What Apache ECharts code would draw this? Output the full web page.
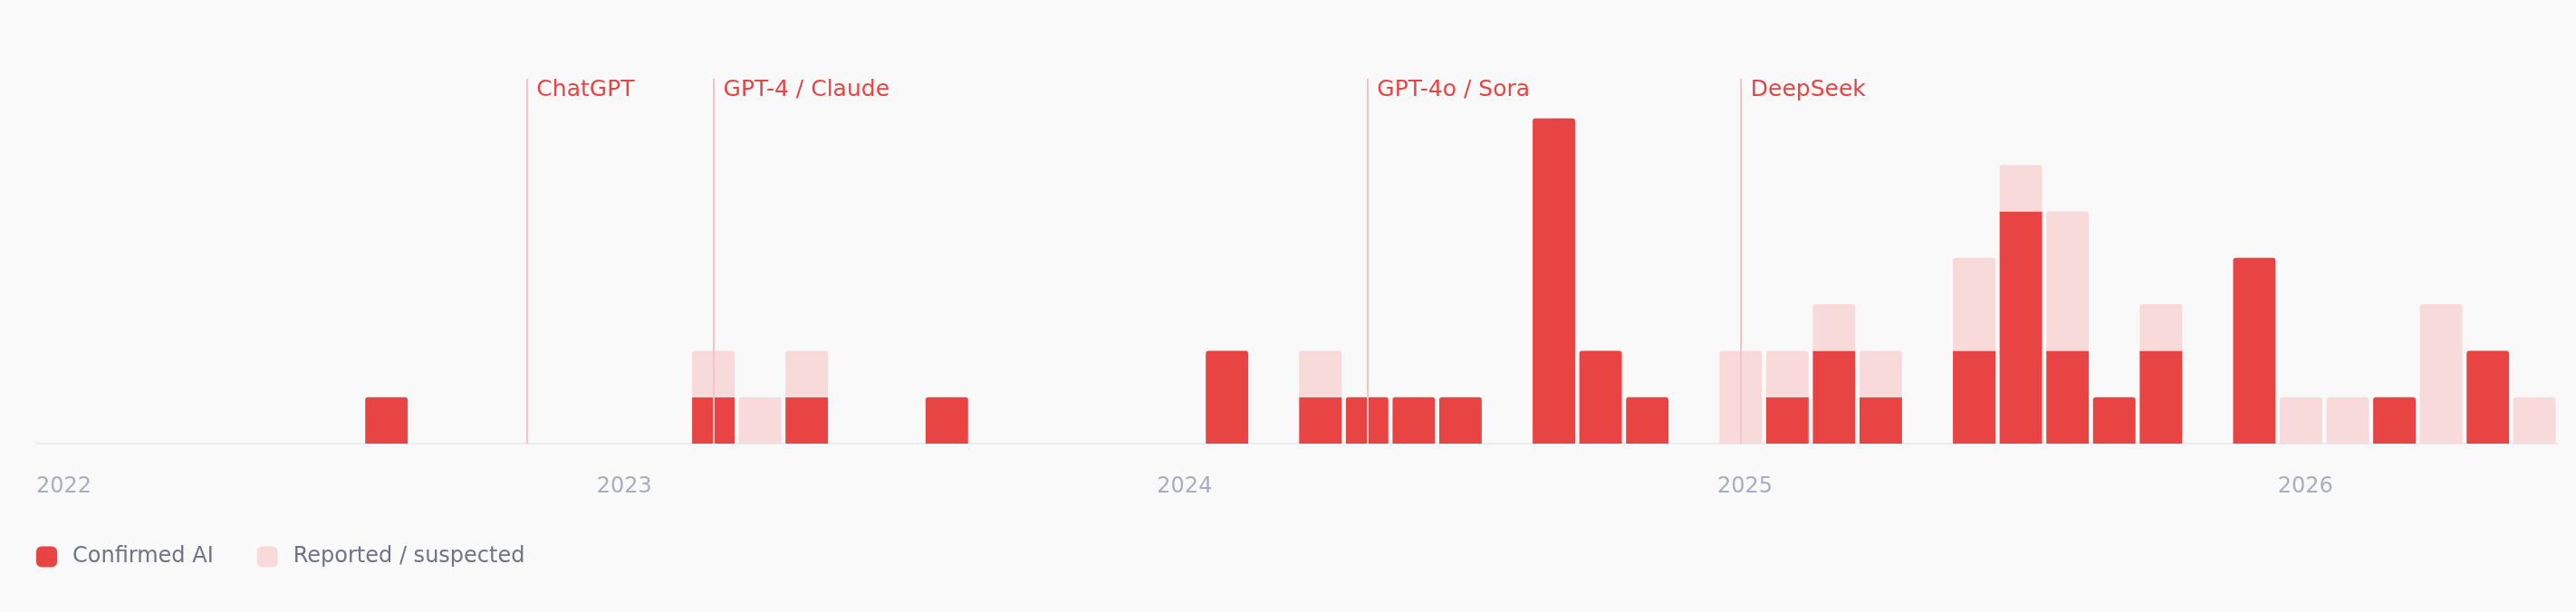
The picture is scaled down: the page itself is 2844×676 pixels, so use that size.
<!DOCTYPE html>
<html>
<head>
<meta charset="utf-8">
<script src="https://cdn.jsdelivr.net/npm/echarts@6/dist/echarts.min.js"></script>
<style>
  html, body { margin: 0; padding: 0; background: #f9f9f9; }
  #chart { width: 2844px; height: 676px; }
</style>
</head>
<body>
<div id="chart"></div>
<script>
const months = [
  '2022-01','2022-02','2022-03','2022-04','2022-05','2022-06','2022-07','2022-08','2022-09','2022-10','2022-11','2022-12',
  '2023-01','2023-02','2023-03','2023-04','2023-05','2023-06','2023-07','2023-08','2023-09','2023-10','2023-11','2023-12',
  '2024-01','2024-02','2024-03','2024-04','2024-05','2024-06','2024-07','2024-08','2024-09','2024-10','2024-11','2024-12',
  '2025-01','2025-02','2025-03','2025-04','2025-05','2025-06','2025-07','2025-08','2025-09','2025-10','2025-11','2025-12',
  '2026-01','2026-02','2026-03','2026-04','2026-05','2026-06'
];
const confirmed = [
  0,0,0,0,0,0,0,1,0,0,0,0,
  0,0,1,0,1,0,0,1,0,0,0,0,
  0,2,0,1,1,1,1,0,7,2,1,0,
  0,1,2,1,0,2,5,2,1,2,0,4,
  0,0,1,0,2,0
];
const suspected = [
  0,0,0,0,0,0,0,0,0,0,0,0,
  0,0,1,1,1,0,0,0,0,0,0,0,
  0,0,0,1,0,0,0,0,0,0,0,0,
  2,1,1,1,0,2,1,3,0,1,0,0,
  1,1,0,3,0,1
];
const yearLabels = ['2022','2023','2024','2025','2026'];
const events = [
  { month: '2022-11', label: 'ChatGPT' },
  { month: '2023-03', label: 'GPT-4 / Claude' },
  { month: '2024-05', label: 'GPT-4o / Sora' },
  { month: '2025-01', label: 'DeepSeek' }
];

const RED = '#e84443';
const PINK = '#f9dadb';
const FONT = '"DejaVu Sans", Inter, sans-serif';

const chart = echarts.init(document.getElementById('chart'));
chart.setOption({
  backgroundColor: '#f9f9f9',
  animation: false,
  textStyle: { fontFamily: FONT },
  legend: {
    left: 40,
    top: 603,
    padding: 0,
    itemWidth: 23,
    itemHeight: 23,
    itemGap: 48,
    icon: 'roundRect',
    textStyle: { color: '#6e7387', fontSize: 24, fontFamily: FONT, padding: [0, 0, 0, 12] },
    data: ['Confirmed AI', 'Reported / suspected']
  },
  grid: { left: 40, right: 20, top: 86.7, bottom: 186, containLabel: false },
  xAxis: [
    {
      type: 'category',
      data: months,
      boundaryGap: true,
      axisLine: { show: true, lineStyle: { color: '#ebebf0', width: 2 } },
      axisTick: { show: false },
      axisLabel: { show: false },
      splitLine: { show: false }
    },
    {
      type: 'value',
      min: 0,
      max: months.length,
      interval: 12,
      position: 'bottom',
      axisLine: { show: false },
      axisTick: { show: false },
      splitLine: { show: false },
      axisLabel: {
        show: true,
        showMaxLabel: false,
        align: 'left',
        margin: 36,
        color: '#a9adc0',
        fontSize: 24,
        fontFamily: FONT,
        formatter: v => yearLabels[Math.round(v / 12)] || ''
      }
    }
  ],
  yAxis: {
    type: 'value',
    min: 0,
    max: 7.86,
    show: false,
    splitLine: { show: false }
  },
  series: [
    {
      name: 'Confirmed AI',
      type: 'bar',
      stack: 'total',
      xAxisIndex: 0,
      barWidth: '91%',
      itemStyle: { color: RED },
      data: confirmed.map((v, i) => ({
        value: v,
        itemStyle: { borderRadius: suspected[i] > 0 ? 0 : [3, 3, 0, 0] }
      })),
      markLine: {
        silent: true,
        symbol: 'none',
        animation: false,
        lineStyle: { color: '#f4c4c6', width: 2, type: 'solid' },
        label: {
          show: true,
          position: 'end',
          distance: 0,
          align: 'left',
          verticalAlign: 'top',
          padding: [0, 0, 0, 11],
          color: RED,
          fontSize: 25,
          fontFamily: FONT,
          formatter: p => p.name
        },
        data: events.map(e => ({ xAxis: e.month, name: e.label }))
      }
    },
    {
      name: 'Reported / suspected',
      type: 'bar',
      stack: 'total',
      xAxisIndex: 0,
      barWidth: '91%',
      itemStyle: { color: PINK, borderRadius: [3, 3, 0, 0] },
      data: suspected
    }
  ]
});
</script>
</body>
</html>
